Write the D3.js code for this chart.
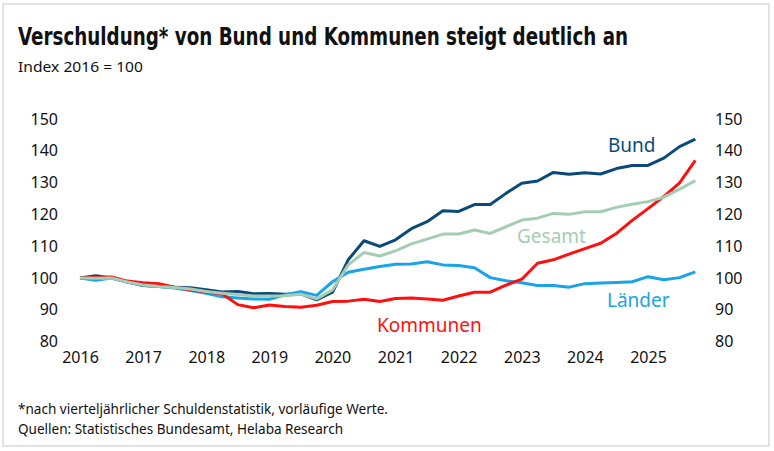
<!DOCTYPE html>
<html lang="de">
<head>
<meta charset="UTF-8">
<title>Verschuldung von Bund und Kommunen</title>
<script src="https://d3js.org/d3.v7.min.js"></script>
<style>
  body { margin: 0; background: #fff; }
  .cond { font-family: "Liberation Sans Narrow", "DejaVu Sans Condensed", "Roboto Condensed", sans-serif; }
  .note { font-family: "Noto Sans", "Open Sans", sans-serif; }
  .tick-label { font-family: "Noto Sans", "Open Sans", sans-serif; font-size: 16px; fill: #111; }
  .series-label { font-family: "Noto Sans", "Open Sans", sans-serif; font-size: 19px; }
  .line { fill: none; stroke-width: 3; stroke-linejoin: round; }
</style>
</head>
<body>
<div id="chart"></div>
<script>
// Quartalswerte 2016 Q1 bis 2025 Q4, Index 2016 = 100
const years = [2016, 2017, 2018, 2019, 2020, 2021, 2022, 2023, 2024, 2025];
const yTicks = [80, 90, 100, 110, 120, 130, 140, 150];

const bund = [100, 100.7, 100, 98.7, 97.6, 97.3, 97.1, 96.9, 96.3, 95.6,
  95.7, 95, 95.1, 94.9, 95.0, 93.1, 95.5, 105.7, 111.7, 109.9,
  112, 115.5, 117.7, 121.1, 120.9, 123.1, 123.1, 126.6, 129.8, 130.5,
  133.2, 132.6, 133.1, 132.7, 134.4, 135.4, 135.4, 137.7, 141.3, 143.7];
const gesamt = [100, 99.9, 100, 98.7, 97.8, 97.3, 97, 96.5, 95.7, 95.2,
  94.8, 94.3, 94.3, 94.4, 94.9, 93.4, 96.2, 104.1, 108, 106.9,
  108.5, 110.7, 112.2, 113.8, 113.8, 115.1, 114, 116.1, 118.2, 118.8,
  120.3, 120, 120.8, 120.8, 122.2, 123.2, 124, 125.4, 127.9, 130.6];
const laender = [100, 99.3, 100, 98.7, 97.7, 97.3, 96.8, 96, 95.2, 94.1,
  93.7, 93.4, 93.3, 94.7, 95.7, 94.5, 98.8, 101.8, 102.7, 103.6,
  104.3, 104.4, 105.1, 104.1, 103.9, 103.2, 100.1, 99.1, 98.5, 97.6,
  97.6, 97.1, 98.2, 98.4, 98.6, 98.8, 100.4, 99.4, 100.1, 101.9];
const kommunen = [100, 100.1, 100.3, 99, 98.5, 98.2, 97.1, 96.3, 95.6, 95,
  91.6, 90.6, 91.5, 91, 90.8, 91.4, 92.6, 92.7, 93.3, 92.6,
  93.5, 93.7, 93.4, 93, 94.3, 95.5, 95.5, 97.7, 99.6, 104.6,
  105.7, 107.5, 109.2, 110.9, 114, 118.1, 121.8, 125.6, 129.9, 137];

// Zeitachse: jedes Quartal als Jahr + Bruchteil
const quarters = [];
years.forEach(y => { for (let q = 0; q < 4; q++) quarters.push(y + q / 4); });

const W = 774, H = 451;
const svg = d3.select("#chart").append("svg")
  .attr("width", W).attr("height", H);

// Rahmen
svg.append("rect")
  .attr("x", 3).attr("y", 4).attr("width", 766).attr("height", 442)
  .attr("fill", "none").attr("stroke", "#e2e2e2").attr("stroke-width", 2);

// Titel
svg.append("text").attr("class", "cond")
  .attr("x", 18).attr("y", 45)
  .attr("font-size", 24).attr("font-weight", "bold").attr("fill", "#111")
  .attr("textLength", 610).attr("lengthAdjust", "spacingAndGlyphs")
  .text("Verschuldung* von Bund und Kommunen steigt deutlich an");
svg.append("text").attr("class", "note")
  .attr("x", 18).attr("y", 72)
  .attr("font-size", 15).attr("fill", "#111")
  .attr("textLength", 125).attr("lengthAdjust", "spacingAndGlyphs")
  .text("Index 2016 = 100");

// Skalen
const x = d3.scaleLinear().domain([2016, 2025]).range([80, 648]);
const y = d3.scaleLinear().domain([80, 150]).range([341.5, 119]);

// Achsen (ohne Linien, nur Beschriftung)
const axL = svg.append("g").attr("transform", "translate(60,0)")
  .call(d3.axisLeft(y).tickValues(yTicks).tickSize(0).tickPadding(2));
const axR = svg.append("g").attr("transform", "translate(713,0)")
  .call(d3.axisRight(y).tickValues(yTicks).tickSize(0).tickPadding(2));
const axB = svg.append("g").attr("transform", "translate(0,350)")
  .call(d3.axisBottom(x).tickValues(years).tickFormat(d3.format("d")).tickSize(0).tickPadding(2));
[axL, axR, axB].forEach(a => {
  a.select(".domain").remove();
  a.selectAll("text").attr("class", "tick-label").attr("font-size", null).attr("font-family", null);
});

// Linien
const line = d3.line()
  .x((d, i) => x(quarters[i]))
  .y(d => y(d));

const series = [
  { name: "Bund", values: bund, color: "#0b4a78", lx: 608, ly: 152 },
  { name: "Länder", values: laender, color: "#1aa3e6", lx: 607, ly: 307 },
  { name: "Kommunen", values: kommunen, color: "#ff1010", lx: 377, ly: 332 },
  { name: "Gesamt", values: gesamt, color: "#a5cdb4", lx: 517, ly: 243 }
];

series.forEach(s => {
  svg.append("path")
    .datum(s.values)
    .attr("class", "line")
    .attr("stroke", s.color)
    .attr("d", line);
});

series.forEach(s => {
  svg.append("text")
    .attr("class", "series-label")
    .attr("x", s.lx).attr("y", s.ly)
    .attr("fill", s.color)
    .text(s.name);
});

// Fußnoten
svg.append("text").attr("class", "note")
  .attr("x", 18).attr("y", 414)
  .attr("font-size", 15).attr("fill", "#111")
  .attr("textLength", 370).attr("lengthAdjust", "spacingAndGlyphs")
  .text("*nach vierteljährlicher Schuldenstatistik, vorläufige Werte.");
svg.append("text").attr("class", "note")
  .attr("x", 18).attr("y", 434)
  .attr("font-size", 15).attr("fill", "#111")
  .attr("textLength", 325).attr("lengthAdjust", "spacingAndGlyphs")
  .text("Quellen: Statistisches Bundesamt, Helaba Research");
</script>
</body>
</html>
